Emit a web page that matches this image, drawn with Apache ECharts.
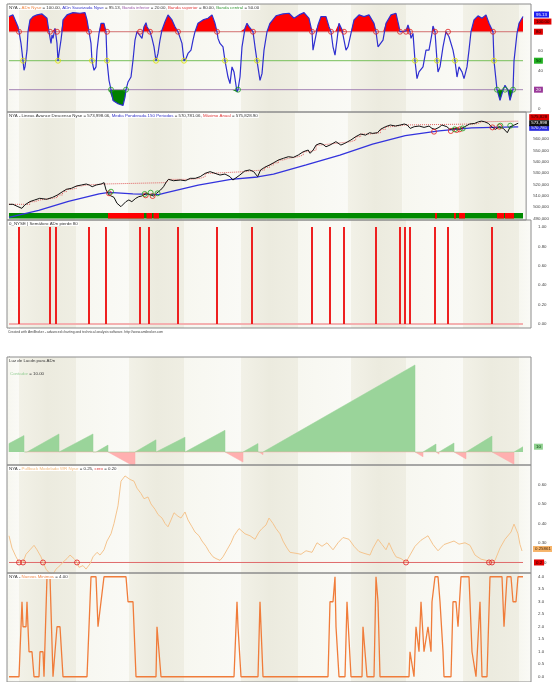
<!DOCTYPE html>
<html>
<head>
<meta charset="utf-8">
<script src="https://cdn.jsdelivr.net/npm/echarts@6/dist/echarts.min.js"></script>
<style>
html, body { margin: 0; padding: 0; background: #fff; }
#main { width: 552px; height: 682px; }
</style>
</head>
<body>
<div id="main"></div>
<script>
// eje x comun: barra 0..514 (fin de datos), el resto es margen derecho
const xMin = -2, xMax = 522, xFin = 514;
const limitesTrimestre = [10, 67, 120, 175, 232, 289, 342, 397, 454, 510];

// panel 1: ADn suavizada y bandas
const bandas = [80, 50, 20];
const adnSuavizada = [[0,95.7],[4,97.4],[9,85.2],[10,80],[12,67.9],[13,59.2],[14,49.8],[15,40.1],[16,43.6],[18,60.9],[19,80],[21,92.2],[24,95.7],[28,97.4],[33,98.4],[38,93.9],[40,80],[42,67.9],[43,76.6],[44,73.1],[46,83.5],[48,67.9],[49,49.8],[50,57.5],[52,71.4],[53,80],[54,92.2],[58,97.4],[64,99.8],[71,99.1],[76,99.8],[78,92.2],[80,80],[82,67.9],[83,49.8],[85,40.1],[87,43.6],[88,60.9],[90,78.3],[92,88.7],[94,90.4],[95,88.7],[97,80],[98,49.8],[100,29.7],[102,20],[104,8.9],[109,5.4],[114,3.6],[116,12.3],[117,20],[119,27.9],[122,33.1],[124,50.5],[126,71.4],[128,80],[130,81.1],[133,73.1],[135,85.2],[137,89.4],[138,85.2],[141,80],[143,73.1],[145,64.4],[147,49.8],[149,57.5],[151,71.4],[153,81.8],[156,90.4],[159,97.4],[163,92.2],[166,85.2],[169,80],[173,67.9],[175,49.8],[177,52.3],[179,57.5],[182,60.9],[184,71.4],[186,80],[189,88.7],[194,92.2],[199,93.9],[203,97.4],[206,88.7],[208,80],[209,73.1],[211,67.9],[214,64.4],[216,49.8],[219,33.1],[221,26.2],[223,43.6],[225,38.4],[228,17.6],[229,20],[231,33.1],[233,64.4],[236,83.5],[238,88.7],[240,85.2],[244,80],[246,64.4],[248,49.8],[251,29.7],[253,36.6],[255,60.9],[258,80],[261,88.7],[267,96.5],[274,98.4],[280,99.1],[285,93.9],[290,97.4],[295,99.8],[300,93.9],[303,80],[304,60.9],[306,71.4],[309,87],[312,95.7],[317,95.7],[320,85.2],[322,80],[324,64.4],[326,55.7],[328,71.4],[330,88.7],[333,82],[335,80],[337,60.9],[339,64.4],[342,78.3],[345,92.2],[350,97.4],[355,95.7],[360,97.4],[365,88.7],[367,80],[369,64.4],[371,66.1],[374,71.4],[377,88.7],[382,97.4],[387,99.1],[390,85.2],[391,80],[394,80],[397,81.1],[399,87],[401,80],[402,73.1],[404,78.3],[406,49.8],[408,31.4],[410,38.4],[414,43.6],[417,60.9],[420,60.9],[423,78.3],[424,85.9],[426,80],[428,49.8],[429,38.4],[431,43.6],[434,64.4],[437,80],[438,81.8],[440,74.8],[444,60.9],[446,49.8],[448,33.1],[450,43.6],[453,38.4],[455,31.4],[458,43.6],[460,60.9],[462,80],[465,92.2],[469,96.4],[473,93.9],[477,97.4],[480,88.7],[484,80],[485,49.8],[488,20],[491,8.9],[494,19.3],[496,24.5],[499,19.3],[501,8.9],[504,20],[505,49.8],[508,78.3],[510,88.7],[514,95.7]];
const cruce80 = [10,41,48,80,98,131,141,169,208,244,303,322,335,367,391,397,401,426,439,484];
const cruce50 = [14,49,83,98,147,175,216,248,406,428,446,485];
const cruce20 = [102,117,229,488,496,504];

// panel 2: linea avance/descenso, media ponderada 150, maximo anual
const lineaAD = [[0,502350],[4,502350],[9,500300],[13,498800],[16,501800],[21,504700],[26,506200],[31,507650],[38,506800],[44,508500],[49,510600],[54,513500],[58,515600],[63,516500],[68,518500],[73,519400],[78,520300],[81,519400],[84,517900],[88,519400],[93,520300],[96,521500],[98,515000],[101,510600],[106,508500],[109,503300],[113,500300],[115,499700],[118,504700],[121,506200],[124,504700],[128,507650],[131,509100],[134,509700],[139,512100],[143,510600],[146,509700],[149,512100],[153,515000],[156,517900],[159,522400],[161,524400],[166,523200],[173,523800],[178,523200],[183,525300],[188,525300],[193,526800],[198,529700],[203,531200],[208,529700],[213,528200],[218,529100],[223,526800],[226,523800],[228,525300],[233,528200],[238,531800],[243,532700],[247,531200],[251,526800],[254,532700],[258,535000],[263,537100],[267,539000],[272,541500],[277,543000],[282,544400],[287,543800],[292,545900],[297,548800],[302,550300],[304,547400],[307,550300],[310,554700],[314,556200],[317,555300],[320,553200],[324,554700],[327,556200],[330,557700],[335,554700],[339,556200],[342,557700],[345,559100],[350,562100],[355,564400],[360,563500],[364,565600],[367,565000],[372,565600],[375,568600],[380,570900],[385,572400],[390,571500],[395,572400],[399,573300],[402,572400],[405,569400],[409,570900],[414,571500],[419,570300],[424,571500],[427,569400],[430,568600],[434,570300],[437,572400],[442,570900],[445,568600],[450,569400],[455,568600],[460,570900],[465,573300],[470,573800],[474,575300],[477,575800],[480,575300],[484,573800],[487,570900],[491,568600],[495,570900],[499,569400],[503,565600],[506,570900],[510,572400],[514,574000]];
const mediaPonderada = [[0,490900],[30,497000],[60,505000],[91,511500],[101,512900],[125,511500],[151,511000],[158,512500],[191,519400],[224,524400],[251,526500],[267,529000],[300,537100],[334,545900],[367,555500],[400,563000],[434,567300],[467,569800],[500,570500],[514,570800]];
const maximoAnual = [[0,502350],[21,504700],[26,506200],[31,507650],[44,508500],[49,510600],[54,513500],[58,515600],[63,516500],[68,518500],[73,519400],[78,520300],[96,521500],[159,522400],[161,524400],[183,525300],[193,526800],[198,529700],[203,531200],[238,531800],[243,532700],[258,535000],[263,537100],[267,539000],[272,541500],[277,543000],[282,544400],[292,545900],[297,548800],[302,550300],[310,554700],[314,556200],[330,557700],[345,559100],[350,562100],[355,564400],[364,565600],[375,568600],[380,570900],[385,572400],[399,573300],[470,573800],[474,575300],[477,575800],[514,575800]];
const circulosRojos = [[101,512100],[138,510300],[145,509700],[429,566500],[446,567100],[452,568000],[455,568600],[488,570300],[495,570900]];
const circulosVerdes = [[103,513500],[137,511500],[143,512600],[150,512100],[450,568600],[458,569400],[496,571800],[506,571800]];
const cintaRoja = [[99,135],[137.5,143],[144.5,150],[426,428],[445,447],[450,456],[488,495],[496,505]];

// panel 3: semaforo ADn pierde 80
const pierde80 = [10,41,47,80,97,131,140,169,208,243,303,321,335,367,391,396,401,426,439,483];

// panel 4: contador (inicio, fin, valor inicial, valor final)
const rampasVerdes = [[0,15,16,31],[18,50,0,34],[52,84,0,34],[87,99,0,13],[126,147,0,23],[149,176,0,28],[178,216,0,41],[234,249,0,16],[254,406,0,164],[414,427,0,15],[430,445,0,17],[457,483,0,30],[505,514,0,10]];
const rampasRojas = [[16,18,0,-2],[50,52,0,-2],[85,87,0,-2],[99,126,0,-28],[147,149,0,-2],[176,178,0,-2],[216,234,0,-19],[250,254,0,-5],[406,414,0,-9],[427,430,0,-4],[445,457,0,-13],[483,505,0,-23]];

// panel 5: pullback modelado
const nivelCero = 0.20;
const pullback = [[0,0.337],[3,0.274],[7,0.229],[10,0.202],[14,0.202],[17,0.242],[21,0.265],[25,0.288],[28,0.265],[32,0.229],[34,0.202],[37,0.166],[40,0.148],[44,0.139],[47,0.166],[51,0.184],[54,0.202],[58,0.22],[61,0.238],[65,0.22],[68,0.202],[70,0.175],[74,0.184],[77,0.166],[81,0.193],[84,0.229],[88,0.252],[91,0.238],[95,0.265],[98,0.31],[102,0.347],[105,0.40],[109,0.491],[112,0.617],[116,0.644],[118,0.653],[121,0.626],[125,0.617],[128,0.581],[132,0.554],[135,0.527],[139,0.536],[142,0.50],[146,0.473],[149,0.446],[153,0.428],[156,0.40],[159,0.383],[162,0.418],[165,0.455],[169,0.437],[172,0.428],[176,0.459],[179,0.418],[183,0.383],[186,0.356],[190,0.337],[193,0.31],[197,0.283],[200,0.256],[204,0.229],[207,0.22],[211,0.211],[214,0.229],[218,0.265],[222,0.301],[225,0.337],[230,0.374],[236,0.347],[241,0.337],[246,0.319],[250,0.356],[253,0.374],[257,0.392],[260,0.428],[264,0.40],[267,0.374],[271,0.347],[274,0.31],[278,0.274],[281,0.252],[287,0.247],[292,0.242],[297,0.26],[303,0.252],[308,0.301],[313,0.283],[318,0.301],[324,0.265],[329,0.301],[334,0.328],[340,0.319],[345,0.283],[350,0.256],[355,0.247],[361,0.238],[364,0.274],[369,0.319],[373,0.292],[377,0.265],[380,0.301],[384,0.256],[387,0.229],[392,0.22],[397,0.202],[401,0.238],[406,0.283],[412,0.314],[419,0.337],[424,0.292],[429,0.26],[435,0.292],[440,0.301],[445,0.31],[450,0.294],[456,0.301],[461,0.288],[466,0.238],[472,0.217],[477,0.211],[481,0.202],[486,0.211],[491,0.274],[496,0.319],[502,0.356],[505,0.397],[509,0.347],[511,0.292],[513,0.259]];
const cruceCero = [10,14,34,68,397,480,483];

// panel 6: nuevos minimos
const nuevosMinimos = [[0,0],[10,0],[13,3],[14,2],[17,2],[18,3],[20,1],[23,1],[25,0],[30,0],[31,1],[34,1],[35,0],[36,0],[38,4],[41,4],[44,0],[45,0],[48,2],[51,2],[54,0],[78,0],[82,4],[87,4],[89,2],[91,2],[92,3],[94,3],[95,4],[117,4],[119,3],[124,3],[127,0],[147,0],[148,2],[150,2],[152,0],[225,0],[228,3],[229,2],[232,0],[249,0],[251,3],[252,3],[254,0],[319,0],[321,3],[324,3],[326,4],[327,2],[330,0],[336,0],[338,3],[340,3],[342,0],[353,0],[354,2],[356,2],[358,0],[365,0],[367,4],[369,3],[371,0],[400,0],[401,1],[403,1],[405,0],[407,2],[408,2],[410,1],[412,3],[414,3],[415,1],[417,1],[419,2],[421,2],[422,1],[423,3],[426,4],[429,4],[431,3],[434,1],[435,0],[442,0],[444,3],[447,3],[449,2],[450,2],[452,4],[460,4],[463,1],[465,1],[467,0],[469,0],[471,3],[473,0],[478,0],[481,4],[493,4],[495,2],[497,2],[498,4],[502,4],[504,3],[507,3],[509,4],[514,4]];

const fuente = 'Liberation Sans';
const fs = 4.4;

const myChart = echarts.init(document.getElementById('main'));

function tag(text, bg, color, offset) {
    return {show: true, formatter: text, backgroundColor: bg, color: color || '#fff', fontSize: fs, fontFamily: fuente,
        padding: [1, 2], distance: 11, offset: offset || [0, 0]};
}

function fondo(gi) {
    let cortes = [xMin].concat(limitesTrimestre, [xMax]);
    let data = [];
    for (let i = 0; i < cortes.length - 1; i++) {
        let stops = i % 2 === 1
            ? [{offset: 0, color: '#f2f1e7'}, {offset: 0.5, color: '#ecebdf'}, {offset: 1, color: '#efeee3'}]
            : [{offset: 0, color: '#f7f7f0'}, {offset: 1, color: '#fafaf6'}];
        data.push([{xAxis: cortes[i], itemStyle: {color: {type: 'linear', x: 0, y: 0, x2: 1, y2: 0, colorStops: stops}}}, {xAxis: cortes[i + 1]}]);
    }
    return {type: 'line', xAxisIndex: gi, yAxisIndex: gi, data: [], z: 1, silent: true, markArea: {silent: true, data: data}};
}

function ejeY(gi, min, max, valores, fmt) {
    return {
        type: 'value', gridIndex: gi, position: 'right', min: min, max: max,
        splitLine: {show: false},
        axisLine: {show: true, lineStyle: {color: '#8c8c8c'}},
        axisTick: {show: valores.length > 0, length: 3, lineStyle: {color: '#777'}, customValues: valores},
        axisLabel: {show: valores.length > 0, fontSize: fs, color: '#444', margin: 7, fontFamily: fuente,
            customValues: valores, formatter: fmt}
    };
}

function rampas(lista, dejarFinal) {
    let pts = [];
    lista.forEach(function (r, i) {
        pts.push([r[0], 0], [r[0], r[2]], [r[1], r[3]]);
        if (!(dejarFinal && i === lista.length - 1)) pts.push([r[1], 0]);
    });
    return pts;
}

function circulos(gi, data, color) {
    return {type: 'scatter', xAxisIndex: gi, yAxisIndex: gi, data: data, symbol: 'circle', symbolSize: 5, z: 6,
        itemStyle: {color: 'rgba(255,255,255,0)', borderColor: color, borderWidth: 1}};
}

function linea(gi, data, color, width, extra) {
    return Object.assign({type: 'line', xAxisIndex: gi, yAxisIndex: gi, data: data, showSymbol: false, symbol: 'none',
        lineStyle: {color: color, width: width}, z: 3}, extra || {});
}

const grids = [
    {top: 4, height: 108},
    {top: 112, height: 108},
    {top: 213, height: 5.5, show: false},
    {top: 220, height: 108},
    {top: 357, height: 108},
    {top: 465, height: 108},
    {top: 573, height: 109}
].map(function (g) {
    return Object.assign({left: 7, right: 21, show: true, borderColor: '#8c8c8c', borderWidth: 1, z: 8}, g);
});

const xAxes = grids.map(function (g, i) {
    return {type: 'value', gridIndex: i, min: xMin, max: xMax, show: false};
});

const yAxes = [
    ejeY(0, -3.1, 108.7, [0, 20, 40, 60, 80, 100]),
    ejeY(1, 488500, 583900, [490000, 500000, 510000, 520000, 530000, 540000, 550000, 560000],
        function (v) { return v.toLocaleString('en-US'); }),
    {type: 'value', gridIndex: 2, min: 0, max: 1, show: false},
    ejeY(3, -0.041, 1.072, [0, 0.2, 0.4, 0.6, 0.8, 1], function (v) { return v.toFixed(2); }),
    ejeY(4, -24.5, 179, []),
    ejeY(5, 0.146, 0.70, [0.2, 0.3, 0.4, 0.5, 0.6], function (v) { return v.toFixed(2); }),
    ejeY(6, -0.21, 4.15, [0, 0.5, 1, 1.5, 2, 2.5, 3, 3.5, 4], function (v) { return v.toFixed(1); })
];

let series = [];
[0, 1, 3, 4, 5, 6].forEach(function (gi) { series.push(fondo(gi)); });

// panel 1
series.push(linea(0, adnSuavizada.map(function (p) { return [p[0], Math.max(p[1], bandas[0])]; }), '#ff0000', 0,
    {areaStyle: {color: '#ff0000', opacity: 1, origin: bandas[0]}, endLabel: tag('100.00', '#e00000', '#200', [0, 5])}));
series.push(linea(0, adnSuavizada.map(function (p) { return [p[0], Math.min(p[1], bandas[2])]; }), '#008000', 0,
    {areaStyle: {color: '#008000', opacity: 1, origin: bandas[2]}}));
series.push(linea(0, [[0, bandas[0]], [xFin, bandas[0]]], '#d27070', 1, {endLabel: tag('80', '#e00000', '#200')}));
series.push(linea(0, [[0, bandas[1]], [xFin, bandas[1]]], '#77c05a', 1, {endLabel: tag('50', '#22b022', '#020')}));
series.push(linea(0, [[0, bandas[2]], [xFin, bandas[2]]], '#a585b5', 1, {endLabel: tag('20', '#9a3a9a', '#fff')}));
series.push(linea(0, adnSuavizada, '#2f2fd0', 1.2, {z: 4, endLabel: tag('95.13', '#1f1ff0', '#fff', [0, -2])}));
series.push(circulos(0, cruce80.map(function (x) { return [x, bandas[0]]; }), '#e02020'));
series.push(circulos(0, cruce50.map(function (x) { return [x, bandas[1]]; }), '#e0e000'));
series.push(circulos(0, cruce20.map(function (x) { return [x, bandas[2]]; }), '#20a020'));

// panel 2
series.push(linea(1, maximoAnual, '#e06060', 1, {step: 'end', lineStyle: {color: '#e06060', width: 1, type: 'dotted'},
    endLabel: tag('575,828', '#dd0000', '#200', [0, -4])}));
const idxMedia = series.length;
series.push(linea(1, mediaPonderada, '#3333dd', 1.3, {endLabel: tag('570,781', '#2a2ae0', '#fff', [0, 1])}));
series.push(linea(1, lineaAD, '#111111', 1, {z: 4, endLabel: tag('573,998', '#111111', '#fff')}));
series.push(circulos(1, circulosRojos, '#e02020'));
series.push(circulos(1, circulosVerdes, '#20a020'));

// cinta verde/roja
series.push({type: 'line', xAxisIndex: 2, yAxisIndex: 2, data: [], z: 3, silent: true,
    markArea: {silent: true, itemStyle: {color: '#008a00'}, data: [[{xAxis: 0}, {xAxis: xFin}]]}});
series.push({type: 'line', xAxisIndex: 2, yAxisIndex: 2, data: [], z: 4, silent: true,
    markArea: {silent: true, itemStyle: {color: '#ff0000'}, data: cintaRoja.map(function (r) { return [{xAxis: r[0]}, {xAxis: r[1]}]; })}});

// panel 3
series.push(linea(3, [[0, 0], [xFin, 0]], '#f4b0b0', 2));
series.push({type: 'bar', xAxisIndex: 3, yAxisIndex: 3, data: pierde80.map(function (x) { return [x, 1]; }),
    barWidth: 2, itemStyle: {color: '#ee2020'}, z: 4});

// panel 4
series.push(linea(4, rampas(rampasRojas, false), '#ffaaaa', 0.5, {areaStyle: {color: '#ffb0b0', opacity: 1}}));
series.push(linea(4, rampas(rampasVerdes, true), '#96d296', 0.5,
    {areaStyle: {color: '#9ad49a', opacity: 1}, endLabel: tag('10', '#8fd08f', '#030')}));

// panel 5
series.push(linea(5, [[0, nivelCero], [xFin, nivelCero]], '#e06a6a', 1, {endLabel: tag('0.2', '#e00000', '#200')}));
series.push(linea(5, pullback, '#f4c48e', 1, {z: 4, endLabel: tag('0.25861', '#f6b46a', '#420', [0, -2])}));
series.push(circulos(5, cruceCero.map(function (x) { return [x, nivelCero]; }), '#e02020'));

// panel 6
series.push(linea(6, nuevosMinimos, '#f07c3a', 1.3));

const rich = {
    g: {color: '#333'}, o: {color: '#f08a4a'}, ol: {color: '#f2bb80'}, b: {color: '#3434c8'},
    p: {color: '#9a5aa8'}, r: {color: '#e03a3a'}, v: {color: '#3a9a3a'}, vl: {color: '#9ad09a'}
};
Object.keys(rich).forEach(function (k) { rich[k].fontSize = fs; rich[k].fontFamily = fuente; });

function titulo(text, left, top, bg) {
    return {text: text, left: left, top: top, padding: [0.5, 1], backgroundColor: bg || 'transparent', itemGap: 0,
        textStyle: {fontSize: fs, fontFamily: fuente, fontWeight: 'normal', color: '#333', rich: rich}};
}

const option = {
    animation: false,
    backgroundColor: '#fff',
    title: [
        titulo('{g|NYA - }{o|ADn Nyse}{g| = 100.00, }{b|ADn Suavizada Nyse}{g| = 95.13, }{p|Banda inferior}{g| = 20.00, }{r|Banda superior}{g| = 80.00, }{v|Banda central}{g| = 50.00}', 8, 5, '#fff'),
        titulo('{g|NYA - Lineas Avance Descenso Nyse = 573,998.06, }{b|Media Ponderada 150 Periodos}{g| = 570,781.06, }{r|Máximo Anual}{g| = 575,828.90}', 8, 113, '#fff'),
        titulo('{g|0_NYSE | Semáforo ADn pierde 80}', 8, 221, '#fff'),
        {text: 'Created with AmiBroker - advanced charting and technical analysis software. http://www.amibroker.com',
            left: 8, top: 331, padding: 0, textStyle: {fontSize: 3.4, fontFamily: fuente, fontWeight: 'normal', color: '#444'}},
        titulo('{g|Luz de Lucdn para ADn}', 8, 358),
        titulo('{vl|Contador}{g| = 10.00}', 9, 371),
        titulo('{g|NYA - }{ol|Pullback Modelado WR Nyse}{g| = 0.25, }{r|cero}{g| = 0.20}', 8, 466, '#fff'),
        titulo('{g|NYA - }{o|Nuevos Minimos}{g| = 4.00}', 8, 574, '#fff')
    ],
    grid: grids,
    xAxis: xAxes,
    yAxis: yAxes,
    visualMap: [{
        type: 'piecewise', show: false, seriesIndex: idxMedia, dimension: 0,
        pieces: cintaRoja.map(function (r) { return {gte: r[0], lte: r[1], color: '#ee2222'}; }),
        outOfRange: {color: '#3333dd'}
    }],
    series: series
};

myChart.setOption(option);
</script>
</body>
</html>
